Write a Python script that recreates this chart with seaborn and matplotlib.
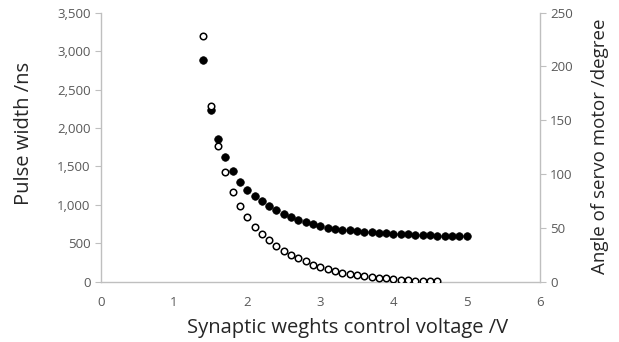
import numpy as np
import pandas as pd
import matplotlib
matplotlib.use("Agg")
import matplotlib.pyplot as plt
import matplotlib.ticker as mticker
import seaborn as sns

# Data
voltage_pulse = [1.4, 1.5, 1.6, 1.7, 1.8, 1.9, 2.0, 2.1, 2.2, 2.3, 2.4, 2.5, 2.6, 2.7,
                 2.8, 2.9, 3.0, 3.1, 3.2, 3.3, 3.4, 3.5, 3.6, 3.7, 3.8, 3.9, 4.0, 4.1,
                 4.2, 4.3, 4.4, 4.5, 4.6, 4.7, 4.8, 4.9, 5.0]
pulse_width = [2879, 2236, 1855, 1625, 1435, 1296, 1196, 1110, 1045, 980, 928, 884, 841,
               802, 772, 750, 724, 702, 689, 676, 668, 660, 652, 645, 638, 632, 627, 622,
               617, 613, 609, 605, 602, 599, 597, 595, 594]

voltage_angle = [1.4, 1.5, 1.6, 1.7, 1.8, 1.9, 2.0, 2.1, 2.2, 2.3, 2.4, 2.5, 2.6, 2.7,
                 2.8, 2.9, 3.0, 3.1, 3.2, 3.3, 3.4, 3.5, 3.6, 3.7, 3.8, 3.9, 4.0, 4.1,
                 4.2, 4.3, 4.4, 4.5, 4.6]
angle = [228.5, 163.4, 125.7, 102.2, 83.6, 70.6, 59.8, 51.1, 44.6, 38.7, 33.2, 28.8,
         25.1, 22.0, 18.9, 15.8, 13.9, 12.1, 10.2, 8.1, 7.0, 6.0, 5.0, 4.3, 3.7, 3.1,
         2.6, 2.0, 1.6, 1.2, 0.8, 0.5, 0.3]

sns.set_style("white")
plt.rcParams['font.family'] = ['Open Sans', 'DejaVu Sans']

grey = "#bfbfbf"
tick_col = "#595959"

fig = plt.figure(figsize=(6.19, 3.42), dpi=100)
ax = fig.add_axes([0.163, 0.176, 0.709, 0.787])
ax2 = ax.twinx()

df_p = pd.DataFrame({"v": voltage_pulse, "w": pulse_width})
df_a = pd.DataFrame({"v": voltage_angle, "a": angle})

sns.scatterplot(data=df_p, x="v", y="w", ax=ax, color="black", s=30,
                edgecolor="black", linewidth=0.5, zorder=3)
sns.scatterplot(data=df_a, x="v", y="a", ax=ax2, color="white", s=22,
                edgecolor="black", linewidth=1.1, zorder=3)

ax.set_xlim(0, 6)
ax.set_ylim(0, 3500)
ax2.set_ylim(0, 250)
ax.set_xticks(range(0, 7))
ax.set_yticks(range(0, 3501, 500))
ax2.set_yticks(range(0, 251, 50))
ax.yaxis.set_major_formatter(mticker.FuncFormatter(lambda v, p: f"{int(v):,}"))

for a in (ax, ax2):
    for side in a.spines:
        a.spines[side].set_color(grey)
        a.spines[side].set_linewidth(1.0)
    a.spines["top"].set_visible(False)
    a.tick_params(colors=tick_col, labelsize=9.5, length=4, width=0.8,
                  direction="out")
    a.tick_params(axis="both", color=grey)
ax.spines["right"].set_visible(False)
ax2.spines["left"].set_visible(False)
ax2.spines["bottom"].set_visible(False)
ax.tick_params(axis="x", pad=6)

ax.set_xlabel("Synaptic weghts control voltage /V", fontsize=14.5)
ax.xaxis.set_label_coords(0.563, -0.135)
ax.set_ylabel("Pulse width /ns", fontsize=14.5)
ax.yaxis.set_label_coords(-0.152, 0.552)
ax2.set_ylabel("Angle of servo motor /degree", fontsize=13.5)
ax2.yaxis.set_label_coords(1.116, 0.505)

fig.savefig("out.png", dpi=100)
